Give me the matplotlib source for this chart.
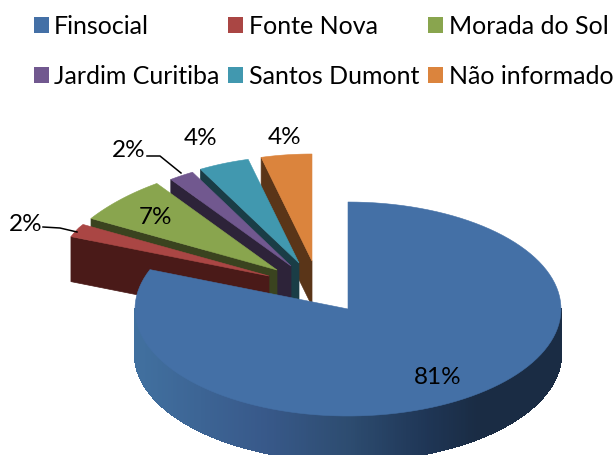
import numpy as np
import matplotlib
matplotlib.use("Agg")
import matplotlib.pyplot as plt
from matplotlib.patches import Polygon, Patch
from matplotlib.collections import PolyCollection
from matplotlib.colors import LinearSegmentedColormap

categories = ["Finsocial", "Fonte Nova", "Morada do Sol",
              "Jardim Curitiba", "Santos Dumont", "Não informado"]
values = [81, 2, 7, 2, 4, 4]
top_colors = ["#4470A6", "#AA4644", "#89A54E", "#71588F", "#4198AF", "#DB843D"]
wall_colors = ["#1A2C44", "#4A1A18", "#3A431F", "#2D2339", "#1A3D46", "#5A3518"]
apex_x = [348, 269, 277, 291, 299, 312]
apex_y = [310, 277, 271, 267, 264, 262]
label_x = [438, 26, 155, 129, 201, 285]
label_y = [378, 225, 218, 151, 139, 138]

RX, RY, DEPTH = 213, 107, 45

plt.rcParams["font.family"] = ["Lato", "DejaVu Sans"]
fig = plt.figure(figsize=(6.14, 4.56), dpi=100)
ax = fig.add_axes([0, 0, 1, 1])
ax.set_xlim(0, 614)
ax.set_ylim(456, 0)
ax.axis("off")

fractions = np.array(values) / sum(values) * 360
starts = np.concatenate([[0], np.cumsum(fractions)[:-1]])
ends = starts + fractions


def rim(cx, cy, a0, a1, n=120, narrow=False):
    t = np.radians(np.linspace(a0, a1, n))
    squeeze = 1 - 0.04 * np.clip((np.cos(t) - 0.45) / 0.35, 0, 1) if narrow else 1.0
    return cx + RX * np.sin(t) * squeeze, cy - RY * np.cos(t)


wall_cmap = LinearSegmentedColormap.from_list(
    "wall", [(0, "#41709F"), (0.3, "#38598A"), (0.5, "#2D4C70"),
             (0.68, "#1F3656"), (0.8, "#1A2C44"), (1, "#1A2C44")])

# painter's order: back slices first, the large front slice last
for i in [5, 4, 3, 2, 1, 0]:
    cx, cy = apex_x[i], apex_y[i]
    xs, ys = rim(cx, cy, starts[i], ends[i], narrow=i > 0)
    if i > 0:
        wx, wy = xs[0], ys[0]
        ax.add_patch(Polygon([(wx, wy), (cx, cy), (cx, cy + DEPTH), (wx, wy + DEPTH)],
                             closed=True, fc=wall_colors[i], ec=wall_colors[i], lw=0.5))
    else:
        fx, fy = rim(cx, cy, 90, 270, 300)
        quads = [[(fx[k], fy[k]), (fx[k + 1], fy[k + 1]),
                  (fx[k + 1], fy[k + 1] + DEPTH), (fx[k], fy[k] + DEPTH)]
                 for k in range(len(fx) - 1)]
        shade = (0.5 * (fx[:-1] + fx[1:]) - (cx - RX)) / (2 * RX)
        ax.add_collection(PolyCollection(quads, facecolors=wall_cmap(shade),
                                         edgecolors=wall_cmap(shade), linewidths=1.0,
                                         antialiaseds=False))
    ax.add_patch(Polygon(np.column_stack([np.r_[cx, xs], np.r_[cy, ys]]),
                         closed=True, fc=top_colors[i], ec=top_colors[i], lw=0.4))

for i, v in enumerate(values):
    ax.text(label_x[i], label_y[i], f"{v}%", fontsize=17.5, color="black",
            ha="center", va="center")

ax.plot([147, 160, 181], [157, 157, 174], color="black", lw=1.1)
ax.plot([43, 60, 77], [228, 229, 233], color="black", lw=1.1)

handles = [Patch(fc=c, ec=c, lw=0) for c in top_colors]
# matplotlib fills legends row-wise with this ordering
order = [0, 3, 1, 4, 2, 5]
leg = ax.legend([handles[k] for k in order], [categories[k] for k in order],
                ncol=3, frameon=False, fontsize=18,
                loc="upper left", bbox_to_anchor=(26 / 614, 1 - 8 / 456),
                handlelength=0.6, handleheight=0.6, handletextpad=0.22,
                columnspacing=0.36, labelspacing=1.08, borderpad=0.3, borderaxespad=0)

fig.savefig("out.png", dpi=100)
